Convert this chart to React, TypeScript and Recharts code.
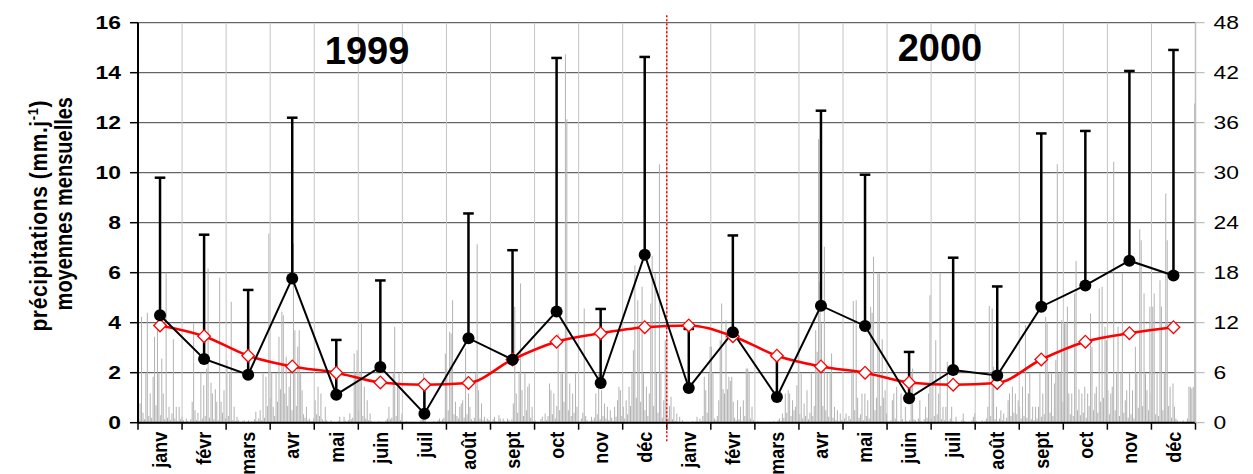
import React from 'react';
import {
  ComposedChart,
  Bar,
  Line,
  XAxis,
  YAxis,
  CartesianGrid,
  ErrorBar,
  ReferenceLine,
  ReferenceDot,
} from 'recharts';

const FONT = '"Liberation Sans", Arial, sans-serif';

// ---- categories ----
const monthNames = ['janv', 'févr', 'mars', 'avr', 'mai', 'juin', 'juil', 'août', 'sept', 'oct', 'nov', 'déc'];
const yearLabels = ['1999', '2000'];

// ---- monthly series (left axis, mm/j) ----
const monthlyMean = [
  4.3, 2.55, 1.92, 5.77, 1.12, 2.23, 0.36, 3.38, 2.52, 4.45, 1.59, 6.72,
  1.39, 3.62, 1.03, 4.68, 3.87, 0.98, 2.11, 1.89, 4.64, 5.49, 6.48, 5.89,
];
const monthlyUpper = [
  9.8, 7.52, 5.31, 12.2, 3.31, 5.69, 1.55, 8.37, 6.9, 14.59, 4.55, 14.63,
  3.75, 7.49, 2.64, 12.48, 9.92, 2.83, 6.6, 5.45, 11.57, 11.67, 14.07, 14.91,
];
const climatologyMean = [3.89, 3.46, 2.68, 2.25, 2.0, 1.61, 1.52, 1.59, 2.53, 3.24, 3.58, 3.82];

// ---- daily precipitation (right axis, mm) ----
const rain1999 = [
  // janv
  0.5, 2.3, 12.7, 1.2, 0.4, 5.9, 13.2, 0.8, 3.5, 0.6, 5.5, 10.3, 2.1, 11.5, 5.9, 0.9, 7.7, 3.5, 0.4, 18.0, 0.6, 1.9, 0.3, 1.1, 10.0, 0.5, 1.9, 0.2, 1.9, 0.4, 0.7,
  // févr
  0.3, 0.0, 0.5, 0.2, 0.0, 0.4, 2.5, 11.9, 1.5, 0.3, 1.2, 0.2, 6.0, 0.5, 4.5, 0.8, 6.5, 18.5, 0.6, 4.8, 3.5, 0.4, 4.0, 2.5, 0.3, 17.4, 2.5, 1.2,
  // mars
  3.9, 0.5, 7.5, 0.8, 5.9, 14.5, 0.3, 1.9, 0.2, 0.7, 0.3, 0.1, 0.0, 0.2, 0.3, 0.0, 0.1, 0.3, 0.0, 0.2, 0.1, 0.4, 1.3, 0.2, 0.5, 1.5, 0.3, 5.9, 0.6, 5.5, 2.0,
  // avr
  22.7, 3.0, 5.9, 1.9, 0.8, 5.9, 2.5, 10.3, 4.0, 13.3, 12.9, 3.5, 7.9, 2.0, 4.3, 5.9, 1.5, 21.5, 11.1, 2.0, 9.1, 11.1, 5.9, 3.9, 1.0, 0.6, 1.9, 0.3, 0.5, 0.2,
  // mai
  0.2, 0.5, 2.7, 1.0, 4.3, 0.8, 3.5, 0.4, 0.2, 1.9, 0.3, 0.1, 0.0, 0.3, 0.0, 0.1, 0.0, 0.0, 0.2, 0.7, 0.1, 0.0, 0.7, 0.2, 0.0, 0.3, 1.1, 0.4, 0.6, 8.3, 5.9,
  // juin
  8.7, 1.5, 5.9, 12.0, 0.8, 4.3, 0.5, 2.7, 0.3, 1.1, 0.2, 0.0, 0.1, 0.0, 0.0, 0.2, 0.0, 0.1, 0.0, 0.0, 0.3, 0.5, 1.9, 0.4, 0.6, 5.9, 11.5, 0.8, 4.3, 5.9,
  // juil
  0.3, 1.1, 0.0, 0.0, 0.2, 0.0, 0.0, 0.0, 0.1, 0.0, 0.0, 0.0, 0.0, 0.0, 0.3, 0.5, 6.1, 0.4, 0.0, 0.0, 0.0, 0.0, 0.0, 0.2, 0.0, 0.0, 0.3, 0.5, 0.2, 0.4, 0.6,
  // août
  8.3, 6.5, 1.5, 10.9, 10.7, 14.7, 1.0, 2.5, 0.8, 0.5, 1.9, 2.3, 2.7, 0.6, 8.9, 1.0, 3.5, 1.9, 0.4, 0.2, 0.6, 5.9, 21.4, 3.9, 0.5, 2.3, 0.3, 0.7, 0.2, 0.5, 0.3,
  // sept
  0.3, 0.1, 0.4, 0.7, 0.2, 0.0, 0.9, 0.5, 0.1, 0.5, 0.2, 0.0, 0.5, 0.3, 0.0, 0.4, 2.3, 13.9, 3.5, 1.2, 5.9, 16.7, 3.9, 0.8, 5.9, 1.5, 4.3, 4.7, 0.6, 1.9,
  // oct
  0.2, 0.3, 0.0, 0.1, 0.0, 0.4, 0.7, 0.2, 1.1, 0.3, 0.8, 4.7, 3.9, 1.0, 3.5, 0.5, 2.0, 10.7, 1.5, 5.9, 5.9, 2.5, 44.2, 36.4, 1.5, 4.7, 0.8, 3.5, 1.2, 5.9, 1.9,
  // nov
  0.3, 0.1, 0.5, 1.2, 13.7, 0.8, 0.3, 0.1, 0.2, 0.7, 0.3, 0.6, 3.5, 1.0, 5.9, 0.4, 3.9, 0.8, 2.3, 0.5, 1.9, 0.3, 1.5, 0.6, 0.2, 1.9, 0.7, 2.7, 4.3, 3.9,
  // déc
  0.8, 1.9, 0.5, 2.7, 1.0, 4.3, 2.0, 5.9, 8.7, 18.9, 3.0, 14.7, 11.5, 2.5, 16.3, 5.9, 1.5, 4.3, 0.8, 3.5, 14.3, 20.0, 2.0, 17.9, 5.9, 1.2, 31.0, 5.9, 0.6, 2.7, 9.9,
];
const rain2000 = [
  // janv
  1.5, 0.6, 2.0, 3.1, 0.4, 1.9, 0.2, 1.1, 0.1, 0.7, 0.0, 0.3, 0.0, 0.0, 0.1, 0.0, 0.0, 0.0, 0.2, 0.0, 0.1, 0.7, 0.0, 0.5, 0.2, 0.8, 5.5, 3.9, 1.2, 5.9, 9.1,
  // févr
  9.1, 5.9, 0.5, 0.3, 0.8, 2.7, 9.9, 14.3, 4.0, 3.5, 12.3, 4.0, 5.5, 5.0, 5.5, 2.5, 0.6, 0.3, 2.7, 0.4, 1.9, 0.2, 2.7, 0.8, 6.5, 6.5, 5.9, 0.5, 1.9,
  // mars
  0.3, 0.1, 0.0, 0.2, 0.0, 0.0, 0.1, 0.0, 0.0, 0.0, 0.0, 0.1, 0.0, 0.0, 0.2, 0.0, 0.0, 0.3, 0.5, 0.2, 1.1, 0.6, 3.5, 1.2, 3.9, 3.5, 0.8, 2.7, 1.5, 1.9, 4.5,
  // avr
  12.1, 1.0, 5.9, 0.5, 2.3, 0.8, 3.9, 0.4, 1.2, 5.9, 0.8, 2.0, 11.1, 8.5, 34.0, 16.9, 11.9, 2.0, 21.1, 1.5, 5.9, 0.7, 5.9, 8.3, 0.6, 1.9, 0.3, 1.5, 0.2, 1.1,
  // mai
  0.3, 0.1, 0.5, 1.1, 0.2, 0.8, 0.4, 5.9, 14.6, 1.5, 14.7, 3.0, 0.6, 1.0, 3.5, 0.3, 3.5, 0.8, 2.7, 0.5, 13.9, 13.2, 19.9, 1.5, 3.0, 17.9, 17.9, 2.0, 10.0, 3.0, 3.9,
  // juin
  1.1, 0.2, 0.0, 0.3, 2.7, 3.5, 0.5, 4.3, 0.2, 0.0, 3.5, 0.4, 0.0, 1.9, 0.2, 0.0, 0.3, 5.9, 6.5, 0.4, 0.3, 0.0, 0.5, 2.7, 0.2, 0.0, 0.4, 1.9, 0.6, 3.5,
  // juil
  15.3, 0.5, 5.9, 0.8, 9.9, 1.0, 3.5, 17.9, 0.4, 1.9, 0.3, 1.9, 7.3, 0.2, 0.5, 1.9, 0.2, 0.0, 0.7, 0.1, 0.0, 0.0, 0.3, 1.1, 0.2, 0.0, 0.0, 0.1, 0.0, 0.3, 0.7,
  // août
  1.1, 0.2, 0.0, 0.1, 0.0, 0.3, 0.0, 0.2, 0.5, 1.9, 14.0, 0.8, 13.7, 6.7, 0.4, 1.9, 0.2, 0.5, 1.5, 0.3, 1.1, 0.2, 0.6, 2.7, 3.5, 0.8, 4.3, 1.2, 3.5, 1.0, 2.7,
  // sept
  1.9, 0.5, 4.3, 0.8, 11.7, 0.6, 3.5, 5.9, 0.4, 1.9, 0.3, 1.9, 0.5, 1.9, 5.9, 0.7, 3.5, 1.0, 12.7, 11.9, 5.9, 1.2, 5.9, 0.8, 4.7, 7.5, 31.0, 5.9, 5.9, 12.3,
  // oct
  2.5, 11.9, 11.9, 13.9, 3.5, 1.0, 3.5, 0.8, 15.5, 19.4, 1.5, 4.0, 0.9, 3.5, 1.2, 4.3, 0.6, 3.5, 2.0, 13.1, 9.1, 1.5, 3.5, 4.3, 1.2, 16.1, 2.5, 16.3, 3.0, 11.5, 9.9,
  // nov
  3.9, 1.0, 3.5, 4.3, 31.3, 1.5, 5.9, 11.5, 0.8, 5.9, 17.9, 1.2, 2.7, 3.9, 0.6, 5.9, 1.0, 3.9, 0.5, 9.1, 5.9, 1.8, 23.2, 21.9, 2.0, 15.5, 5.9, 3.9, 1.5, 13.9,
  // déc
  3.5, 13.9, 15.5, 1.0, 5.9, 0.8, 17.1, 13.9, 1.5, 5.9, 27.5, 21.9, 2.0, 4.3, 0.6, 4.7, 1.9, 0.5, 0.3, 0.0, 0.1, 0.0, 0.3, 0.0, 0.1, 0.5, 4.3, 4.3, 4.1, 4.3, 38.3,
];

// ---- tick values ----
const leftTicks = [0, 2, 4, 6, 8, 10, 12, 14, 16];
const rightTicks = [0, 6, 12, 18, 24, 30, 36, 42, 48];

// ---- derived tables ----
const monthLabels = [...monthNames, ...monthNames];
const monthRows = monthLabels.map((label, i) => ({
  pos: i + 0.5,
  label,
  mean: monthlyMean[i],
  err: [0, monthlyUpper[i] - monthlyMean[i]],
  clim: climatologyMean[i % 12],
}));
const monthCenters = monthRows.map((r) => r.pos);
const monthBounds = Array.from({ length: monthLabels.length + 1 }, (_, i) => i);
const dailyRows = [...rain1999, ...rain2000].map((v, i) => ({ day: i, rain: v }));

const STRETCH = 1.27;

const MonthTick = (props: any) => {
  const { x, y, payload } = props;
  const label = monthLabels[Math.floor(payload.value)] ?? '';
  return (
    <text
      transform={`translate(${x}, ${y}) scale(1.15, 1) rotate(-90)`}
      textAnchor="end"
      dy="0.35em"
      fontFamily={FONT}
      fontWeight="bold"
      fontSize={18}
      fill="#000"
    >
      {label}
    </text>
  );
};

const LeftTick = (props: any) => {
  const { x, y, payload } = props;
  return (
    <text
      transform={`translate(${x}, ${y}) scale(${STRETCH}, 1)`}
      textAnchor="end"
      dy="0.35em"
      fontFamily={FONT}
      fontWeight="bold"
      fontSize={18}
      fill="#000"
    >
      {payload.value}
    </text>
  );
};

const RightTick = (props: any) => {
  const { x, y, payload } = props;
  return (
    <text
      transform={`translate(${x}, ${y}) scale(${STRETCH}, 1)`}
      textAnchor="start"
      dy="0.35em"
      fontFamily={FONT}
      fontSize={18}
      fill="#000"
    >
      {payload.value}
    </text>
  );
};

const Diamond = (props: any) => {
  const { cx, cy, index } = props;
  if (cx == null || cy == null) return <g key={`dm${index}`} />;
  const s = 6.3;
  return (
    <path
      key={`dm${index}`}
      d={`M${cx},${cy - s}L${cx + s},${cy}L${cx},${cy + s}L${cx - s},${cy}Z`}
      fill="#fff"
      stroke="#ff0000"
      strokeWidth={1.3}
    />
  );
};

const LeftTitle = (props: any) => {
  const vb = props.viewBox || { x: 0, y: 22.7, width: 138, height: 400 };
  const x1 = vb.x + 39;
  const y1 = vb.y + vb.height / 2 - 7;
  const x2 = vb.x + 64;
  const y2 = vb.y + vb.height / 2 - 19;
  return (
    <g fontFamily={FONT} fontWeight="bold" fill="#000">
      <text
        transform={`translate(${x1}, ${y1}) scale(1.15, 1) rotate(-90)`}
        textAnchor="middle"
        dy="0.35em"
        fontSize={21}
        letterSpacing={0.6}
      >
        précipitations (mm.j
        <tspan dy={-8} fontSize={13}>-1</tspan>
        <tspan dy={8}>)</tspan>
      </text>
      <text
        transform={`translate(${x2}, ${y2}) scale(1.15, 1) rotate(-90)`}
        textAnchor="middle"
        dy="0.35em"
        fontSize={20}
      >
        moyennes mensuelles
      </text>
    </g>
  );
};

export default function App() {
  return (
    <div style={{ position: 'absolute', left: 0, top: 0, background: '#fff' }}>
      <ComposedChart
        width={1253}
        height={474}
        data={dailyRows}
        margin={{ top: 22.7, right: 0, bottom: 0, left: 0 }}
      >
        <XAxis xAxisId="d" dataKey="day" type="category" hide />
        <XAxis
          dataKey="pos"
          type="number"
          domain={[0, 24]}
          allowDataOverflow
          ticks={monthCenters}
          interval={0}
          tickLine={false}
          tickSize={0}
          tickMargin={9}
          axisLine={{ stroke: '#000', strokeWidth: 2 }}
          tick={<MonthTick />}
          height={51.3}
        />
        <YAxis
          domain={[0, 16]}
          ticks={leftTicks}
          interval={0}
          width={138}
          axisLine={{ stroke: '#000', strokeWidth: 2 }}
          tickLine={{ stroke: '#000', strokeWidth: 1.5 }}
          tickSize={8}
          tickMargin={9}
          tick={<LeftTick />}
          label={<LeftTitle />}
        />
        <YAxis
          yAxisId="right"
          orientation="right"
          domain={[0, 48]}
          ticks={rightTicks}
          interval={0}
          width={57.5}
          axisLine={{ stroke: '#c0c0c0', strokeWidth: 1.5 }}
          tickLine={{ stroke: '#b0b0b0', strokeWidth: 1 }}
          tickSize={9}
          tickMargin={9}
          tick={<RightTick />}
        />
        <Bar
          xAxisId="d"
          yAxisId="right"
          dataKey="rain"
          fill="#b2b2b2"
          barCategoryGap={0}
          isAnimationActive={false}
        />
        <CartesianGrid vertical={false} stroke="#404040" strokeWidth={1} />
        {monthBounds.slice(1, -1).map((b) => (
          <ReferenceLine key={`g${b}`} x={b} stroke="#c4c4c4" strokeWidth={1} />
        ))}
        {monthBounds.map((b) => (
          <ReferenceLine
            key={`t${b}`}
            segment={[{ x: b, y: 0 }, { x: b, y: -0.28 }]}
            stroke="#000"
            strokeWidth={1.5}
            ifOverflow="visible"
          />
        ))}
        <ReferenceLine
          segment={[{ x: 12, y: 16.3 }, { x: 12, y: -0.8 }]}
          stroke="#ff0000"
          strokeWidth={1.5}
          strokeDasharray="2 2"
          ifOverflow="visible"
        />
        <ReferenceDot
          x={5.2}
          y={14.9}
          r={1}
          fill="none"
          stroke="none"
          label={{ value: yearLabels[0], position: 'center', fontSize: 38, fontWeight: 'bold', fill: '#000', fontFamily: FONT }}
        />
        <ReferenceDot
          x={18.2}
          y={15.0}
          r={1}
          fill="none"
          stroke="none"
          label={{ value: yearLabels[1], position: 'center', fontSize: 38, fontWeight: 'bold', fill: '#000', fontFamily: FONT }}
        />
        <Line
          data={monthRows}
          dataKey="clim"
          type="monotone"
          stroke="#ff0000"
          strokeWidth={2.6}
          dot={<Diamond />}
          activeDot={false}
          isAnimationActive={false}
        />
        <Line
          data={monthRows}
          dataKey="mean"
          type="linear"
          stroke="#000"
          strokeWidth={2}
          dot={{ r: 6, fill: '#000', stroke: '#000', strokeWidth: 0 }}
          activeDot={false}
          isAnimationActive={false}
        >
          <ErrorBar dataKey="err" direction="y" width={5.3} strokeWidth={2.5} stroke="#000" />
        </Line>
      </ComposedChart>
    </div>
  );
}
